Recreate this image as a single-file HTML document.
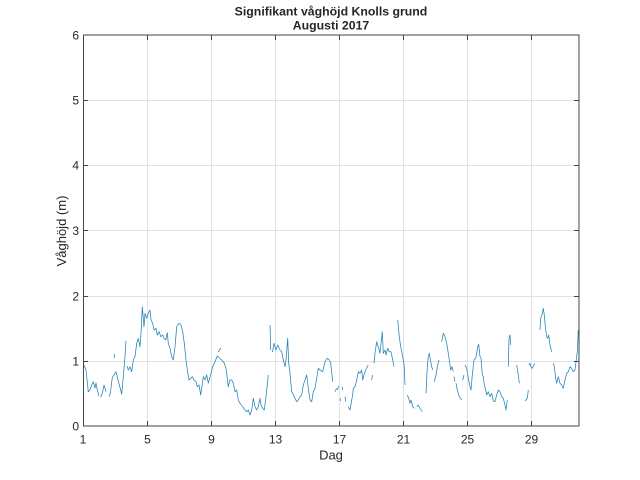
<!DOCTYPE html>
<html><head><meta charset="utf-8"><style>
html,body{margin:0;padding:0;background:#fff;}
svg{display:block;}
text{font-family:"Liberation Sans",Arial,sans-serif;fill:#262626;}
</style></head><body>
<svg width="640" height="480" viewBox="0 0 640 480" xmlns="http://www.w3.org/2000/svg">
<rect width="640" height="480" fill="#fff"/>
<rect x="83" y="34.7" width="496" height="391.5" fill="#fff"/>
<g stroke="#e2e2e2" stroke-width="1" fill="none">
<path d="M147.5 35V426M211.5 35V426M275.5 35V426M339.5 35V426M403.5 35V426M467.5 35V426M531.5 35V426"/>
<path d="M83 361.5H579M83 296.5H579M83 230.5H579M83 165.5H579M83 100.5H579"/>
</g>
<g stroke="#1f82b6" stroke-width="0.75" fill="none" stroke-linejoin="round">
<polyline points="84,365 86,370 88.3,391.7 90,390 91.7,385 93.3,381.7 95,388 96,383 97.3,390 99,396"/>
<polyline points="100.7,397.3 102.7,391.7 104,385 106,391.7"/>
<polyline points="109.3,396.7 110.5,392 112.3,377.3 114,375 116,371.7 118,380 120.7,390 121.7,394.3 123.3,376.7 125,356.7 126,340.7"/>
<polyline points="114.3,354 114.3,358"/>
<polyline points="127,366 128.3,370 130,366.7 131.7,371.7 133.3,360 135,356.7 136.7,343.3 138.3,338.3 140,346.7 141,333.3 142.3,306.7 144,326.7 145,313.3 146.7,318.3 148.3,313.3 150,310 151,320 152.7,323.3 154,330 156,328.3 157.3,335 159.3,331.7 160.7,336.7 162.7,335 164,338.3 165.7,340 167.3,332.7 168.3,343.3 170,348.3 171.7,356.7 173.3,360 175,346.7 176.7,326.7 179,323.3 181,325 182.7,331.7 184.3,343.3 186,360 187.3,370 189,380 190.7,378.3 192.3,376.7 194,380 196,381.7 197.3,386.7 199,385 200.7,395 201.7,388.3 203.3,376.7 205,380 206.7,375 208.3,383.3 211,373.3 212.7,366.7 215,361.7 217.3,356 219.3,358 221.7,360 224,362.7 226,368.3 227.3,378.3 228.3,386.7 230,380 231.7,380 233.3,383.3 235,391.7 236.7,390 238.3,400 240,403.3 242.7,406.7 245,410 246.7,411.7 248.3,410 250,415 251.7,410 253.3,398.3 255,406.7 256.7,410 258.3,406.7 260,398.3 261,405 262.7,408.3 264.3,410 266,396.7 268.3,375"/>
<polyline points="218.3,352 220.7,348"/>
<polyline points="270,325 270.7,350"/>
<polyline points="272.5,352 274,343.3 275,346.7 276,350 277.7,345 280,350 281.7,351.7 283.3,360 285,366.7 286,360 287.7,338.3 288.7,363.3 290,373.3 291.7,391.7 293,394 295,398.3 296.7,401.7 298.3,400 300,396.7 301.7,395 303.3,385 305,380 306.7,375 308.3,388.3 310,400 311.7,401.7 313.3,391.7 315,388.3 316.7,378.3 318.3,368.3 320,370 322.7,371.7 325,361.7 327.3,358.3 329.3,360 330.7,363.3 332.7,381.7"/>
<polyline points="335,391.7 336.7,388.3"/>
<polyline points="337.5,390 338.5,386"/>
<polyline points="340,398.3 340.7,401"/>
<polyline points="342,386.7 342.7,390"/>
<polyline points="345,396.7 345.7,401.7"/>
<polyline points="348.3,406.7 350,410 351.7,400 352.7,395 353.3,388.3 355,386.7 356.7,380 358.3,371.7 360,373.3 361.7,370 362.7,380 364,375 365.7,370 367.3,366.7 368.3,365"/>
<polyline points="371.7,380 372.5,375"/>
<polyline points="374,363.3 375,353.3 376.7,341.7 378.3,346.7 380,353.3 381,343.3 382.3,331.7 383.3,353.3 385,350 386,355 387.7,348.3 389.3,351.7 391,351.7 392.7,360 394,366.7"/>
<polyline points="397.7,320 399.3,336.7 400.7,346.7 402.7,356.7 404.3,366.7 405,385"/>
<polyline points="407.3,395 408.7,398.3 410,403.3 411,400 412.7,406.7 414.3,408.3"/>
<polyline points="416.7,406.7 418.3,405 420,408.3 422.3,411.7"/>
<polyline points="426,393.3 427.3,366.7 428.3,356.7 429.3,353.3 430.7,361.7 431.7,366.7 432.7,370"/>
<polyline points="434.3,381.7 436,375 437.7,365 439,360"/>
<polyline points="441.7,341.7 443.3,333.3 445,336.7 446.7,343.3 448.3,353.3 449.3,360 450.7,370 452,366.7 453.3,371.7"/>
<polyline points="454,376.7 455,381.7"/>
<polyline points="456,383.3 457.3,390 459.3,396.7 461.7,400"/>
<polyline points="462.7,380 464,375"/>
<polyline points="465,365 466.7,368.3 468.3,378.3 470,386.7 471,390 472.3,375 474,360 475.7,358.3 476.7,353.3 477.7,346.7 478.7,344.3 480,356.7 481,358.3 482.3,375 483.3,376.7 484.3,385 485.7,390 486.7,395 488.3,391.7 490,396.7 491.7,393.3 493.3,401 495,401.7 496.7,395 498.3,390 500,391.7 501.7,396.7 503.3,398.3 505,405 506,410 507.3,400"/>
<polyline points="508.3,366.7 509,338.3 510,335 510.7,345"/>
<polyline points="516.7,365 518.3,375 519.3,383.3"/>
<polyline points="525,401 527.3,398.3 528.3,390"/>
<polyline points="528.7,365 530,363.3 531,367 532.3,368.3 534,365 535,363.3"/>
<polyline points="540,330 540.7,318.3 542,315 543.3,308.3 544.3,315 545.3,326.7 546.7,336.7 547.7,338.3 548.7,335 550,345 551.7,351.7"/>
<polyline points="553.3,363.3 554.3,366.7 555.7,378.3 556.7,383.3 558.3,376.7 560,383.3 561.7,385 563.3,388.3 565,380 566.7,373.3 568.3,371.7 570,366.7 571.7,368.3 573.3,371.7 575,370 576,361.7 577.3,351.7 578.3,330"/>
</g>
<g stroke="#444" stroke-width="1" fill="none">
<rect x="83.5" y="35" width="495.5" height="391"/>
<path d="M147.5 426V421M211.5 426V421M275.5 426V421M339.5 426V421M403.5 426V421M467.5 426V421M531.5 426V421"/>
<path d="M147.5 35V40M211.5 35V40M275.5 35V40M339.5 35V40M403.5 35V40M467.5 35V40M531.5 35V40"/>
<path d="M83 361.5H88M83 296.5H88M83 230.5H88M83 165.5H88M83 100.5H88"/>
<path d="M579 361.5H574M579 296.5H574M579 230.5H574M579 165.5H574M579 100.5H574"/>
</g>
<g font-size="12" text-anchor="end">
<text x="79" y="430.5">0</text>
<text x="79" y="365.5">1</text>
<text x="79" y="300.5">2</text>
<text x="79" y="235">3</text>
<text x="79" y="169.5">4</text>
<text x="79" y="104.5">5</text>
<text x="79" y="39.5">6</text>
</g>
<g font-size="12" text-anchor="middle">
<text x="83" y="443.5">1</text>
<text x="147.5" y="443.5">5</text>
<text x="211.5" y="443.5">9</text>
<text x="275.5" y="443.5">13</text>
<text x="339.5" y="443.5">17</text>
<text x="403.5" y="443.5">21</text>
<text x="467.5" y="443.5">25</text>
<text x="531.5" y="443.5">29</text>
</g>
<text x="331" y="459.5" font-size="13" text-anchor="middle">Dag</text>
<text transform="translate(66,231) rotate(-90)" font-size="13" text-anchor="middle">Våghöjd (m)</text>
<text x="331" y="15.5" font-size="12.3" font-weight="bold" text-anchor="middle" fill="#000">Signifikant våghöjd Knolls grund</text>
<text x="331" y="29.5" font-size="12.3" font-weight="bold" text-anchor="middle" fill="#000">Augusti 2017</text>
</svg>
</body></html>
